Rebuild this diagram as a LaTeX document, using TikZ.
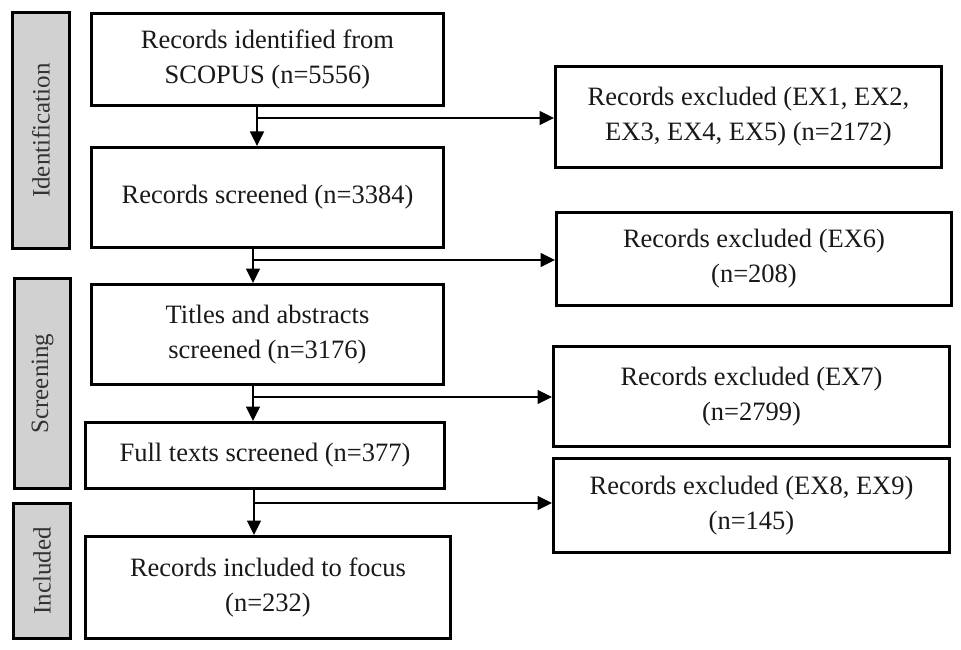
\documentclass[tikz,border=0pt]{standalone}
\usepackage{fontspec}
\setmainfont{Liberation Serif}
\usetikzlibrary{arrows.meta}
\definecolor{sidegray}{RGB}{210,209,209}
\definecolor{txt}{RGB}{25,25,25}
\tikzset{
  box/.style={draw=black, line width=3pt, fill=white, inner sep=0pt, align=center,
    text=txt, font=\fontsize{26.5}{35}\selectfont},
  side/.style={draw=black, line width=3pt, fill=sidegray, inner sep=0pt},
  sidetext/.style={rotate=90, text=black!80, font=\fontsize{25}{30}\selectfont},
  arr/.style={line width=1.2pt, -{Triangle[length=14.5pt,width=14pt]}},
}
\begin{document}
\begin{tikzpicture}[x=1pt,y=-1pt]
\useasboundingbox (0,0) rectangle (961,650);
% side labels
\node[side, minimum width=57pt, minimum height=236pt] (S1) at (41,130.5) {};
\node[sidetext] (S1t) at (S1.center) {Identification};
\node[side, minimum width=56pt, minimum height=210pt] (S2) at (42.5,383.5) {};
\node[sidetext] (S2t) at (S2.center) {Screening};
\node[side, minimum width=57pt, minimum height=135pt] (S3) at (42,571) {};
\node[sidetext] (S3t) at (S3.center) {Included};
% main boxes
\node[box, minimum width=352pt, minimum height=92pt] (B1) at (267.5,59.5) {Records identified from\\SCOPUS (n=5556)};
\node[box, minimum width=352pt, minimum height=100pt] (B2) at (267.5,197.5) {Records screened (n=3384)};
\node[box, minimum width=352pt, minimum height=100pt] (B3) at (267.5,334.5) {Titles and abstracts\\screened (n=3176)};
\node[box, minimum width=359pt, minimum height=66pt] (B4) at (265,455.5) {Full texts screened (n=377)};
\node[box, minimum width=365pt, minimum height=102pt] (B5) at (268,587.5) {Records included to focus\\(n=232)};
% right boxes
\node[box, minimum width=386pt, minimum height=101pt] (R1) at (748.5,117) {Records excluded (EX1, EX2,\\EX3, EX4, EX5) (n=2172)};
\node[box, minimum width=395pt, minimum height=93pt] (R2) at (754,259) {Records excluded (EX6)\\(n=208)};
\node[box, minimum width=396pt, minimum height=100pt] (R3) at (751.5,396.5) {Records excluded (EX7)\\(n=2799)};
\node[box, minimum width=396pt, minimum height=94pt] (R4) at (751.5,505.5) {Records excluded (EX8, EX9)\\(n=145)};
% junctions
\coordinate (j1) at (257,118);
\coordinate (j2) at (253,260);
\coordinate (j3) at (253,397);
\coordinate (j4) at (254,503);
% connectors
\draw[arr] (B1.south -| j1) -- (B2.north -| j1);
\draw[arr] (j1) -- (j1 -| R1.west);
\draw[arr] (B2.south -| j2) -- (B3.north -| j2);
\draw[arr] (j2) -- (j2 -| R2.west);
\draw[arr] (B3.south -| j3) -- (B4.north -| j3);
\draw[arr] (j3) -- (j3 -| R3.west);
\draw[arr] (B4.south -| j4) -- (B5.north -| j4);
\draw[arr] (j4) -- (j4 -| R4.west);
\end{tikzpicture}
\end{document}
